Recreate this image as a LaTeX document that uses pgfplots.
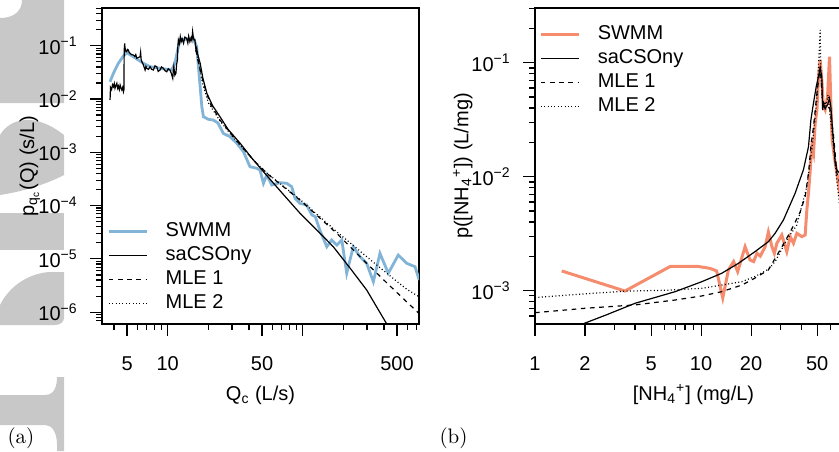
\documentclass[border=0pt]{standalone}
\usepackage{fontspec}
\usepackage{pgfplots}
\pgfplotsset{compat=1.18}
\newfontfamily\arial{Liberation Sans}
\definecolor{swmmblue}{RGB}{130,180,215}
\definecolor{swmmred}{RGB}{245,140,110}
\definecolor{wmark}{RGB}{200,200,200}

\tikzset{
  sacso/.style={black, line width=0.6pt},
  mle1/.style={black, line width=0.6pt, dash pattern=on 2.3pt off 2.3pt},
  mle2/.style={black, line width=0.6pt, dash pattern=on 0.5pt off 1.2pt},
}

\begin{document}
\begin{tikzpicture}[x=1pt,y=1pt]
% grey watermark letters cut by the left margin
\fill[wmark] (0,216.5) .. controls (7.5,216.5) and (11,220.5) .. (11,225.5)
  -- (32,225.5) -- (32,174) -- (0,174) -- cycle;
\fill[wmark] (0,158) .. controls (5,166.5) and (17.5,169.5) .. (32,158)
  -- (32,138) .. controls (22.5,133) and (10,129.5) .. (0,128) -- cycle;
\fill[wmark] (0,119) rectangle (32,100.5);
\fill[wmark] (0,73) .. controls (5,83) and (15,89) .. (25,89.5) -- (32,89.5)
  -- (32,66.5) .. controls (32,64.5) and (30,63) .. (27.5,63) -- (0,63) -- cycle;
\fill[wmark] (0,28) -- (22.5,28) .. controls (27.5,28) and (28.5,33) .. (28.5,37)
  -- (32,37) -- (32,0) -- (28.5,0) -- (28.5,3) .. controls (28.5,9.5) and (26,13) .. (22.5,13)
  -- (0,13) -- cycle;

% (a)
\begin{axis}[
  scale only axis, width=158.5pt, height=158pt,
  at={(51pt,63.5pt)}, anchor=south west,
  xmode=log, ymode=log,
  font=\arial\fontsize{10}{12}\selectfont,
  axis line style={line width=0.9pt},
  tick align=outside, tick pos=left,
  major tick length=6pt, minor tick length=3pt,
  every tick/.style={black, line width=0.6pt},
  xticklabel style={anchor=north, inner sep=0pt},
  yticklabel style={anchor=east, inner sep=0pt},
  xticklabel shift=10pt, yticklabel shift=6pt,
  legend cell align=left,
  legend style={draw=none, fill=none, inner sep=0pt, column sep=8.7pt, row sep=2.7pt,
    nodes={inner sep=0pt, text height=7.2pt, text depth=2.1pt},
    at={(axis description cs:0.016,0.323)}, anchor=north west},
  legend image code/.code={\draw[#1] (0pt,0pt) -- (19pt,0pt);},
  xmin=3.26, xmax=728, ymin=6e-7, ymax=0.51,
  xtick={5,10,50,100,500}, xticklabels={5,10,50,,500},
  minor xtick={4,6,7,8,9,20,30,40,60,70,80,90,200,300,400,600,700},
  ytick={1e-6,1e-5,1e-4,1e-3,1e-2,1e-1},
  yticklabels={10\textsuperscript{−6},10\textsuperscript{−5},10\textsuperscript{−4},
               10\textsuperscript{−3},10\textsuperscript{−2},10\textsuperscript{−1}},
  minor ytick={7e-7,8e-7,9e-7,2e-6,3e-6,4e-6,5e-6,6e-6,7e-6,8e-6,9e-6,
               2e-5,3e-5,4e-5,5e-5,6e-5,7e-5,8e-5,9e-5,2e-4,3e-4,4e-4,5e-4,6e-4,7e-4,8e-4,9e-4,
               2e-3,3e-3,4e-3,5e-3,6e-3,7e-3,8e-3,9e-3,2e-2,3e-2,4e-2,5e-2,6e-2,7e-2,8e-2,9e-2,
               2e-1,3e-1,4e-1,5e-1},
  every axis x label/.style={at={(axis description cs:0.5,-0.2405)}, anchor=base},
  every axis y label/.style={at={(axis description cs:-0.228,0.5)}, anchor=center, rotate=90},
  xlabel={Q\textsubscript{c} (L/s)},
  ylabel={p\textsubscript{q\textsubscript{c}}(Q) (s/L)},
]
\addplot[swmmblue, line width=1.4pt] coordinates {
(3.74,0.0211) (3.96,0.0303) (4.31,0.0468) (4.70,0.0641) (4.97,0.0739) (5.57,0.0622)
(6.60,0.0468) (7.40,0.0404) (9.84,0.0361) (10.7,0.035) (11.3,0.0468) (12.0,0.0958)
(12.4,0.128) (15.5,0.138) (16.4,0.0958) (16.9,0.0404) (17.4,0.0170) (17.9,7.18e-3)
(18.4,4.66e-3) (20.0,4.16e-3) (21.7,4.04e-3) (23.6,3.55e-3) (25.8,2.27e-3) (29.0,1.96e-3)
(32.5,1.48e-3) (36.4,1.03e-3) (40.7,5.37e-4) (45.7,5.01e-4) (48.3,4.66e-4) (51.2,2.62e-4)
(54.2,3.75e-4) (59.0,2.44e-4) (68.0,2.69e-4) (76.2,2.62e-4) (83.0,2.26e-4) (87.8,1.37e-4)
(95.6,1.10e-4) (107,1.03e-4) (117,6.67e-5) (124,6.19e-5) (134,3.48e-5) (151,1.69e-5)
(164,2.26e-5) (179,1.82e-5) (195,2.26e-5) (212,5.37e-6) (237,1.69e-5) (266,1.10e-5)
(298,8.26e-6) (334,3.73e-6) (374,1.27e-5) (431,5.37e-6) (511,1.18e-5) (590,8.26e-6)
(680,7.14e-6) (731,4.02e-6)};
\addlegendentry{SWMM}
\addplot[sacso] coordinates {
(3.74,0.0096) (3.77,0.0165) (3.84,0.0150) (3.90,0.0185) (3.96,0.0170) (4.02,0.0195)
(4.07,0.0159) (4.14,0.0180) (4.20,0.0197) (4.26,0.0160) (4.31,0.0175) (4.38,0.0150)
(4.44,0.0183) (4.51,0.0160) (4.57,0.0148) (4.64,0.0165) (4.70,0.0137) (4.74,0.0150)
(4.76,0.083) (4.80,0.110) (4.83,0.090) (4.90,0.078) (4.97,0.0771) (5.04,0.085)
(5.11,0.083) (5.18,0.075) (5.26,0.072) (5.40,0.068) (5.57,0.0669) (5.70,0.063)
(5.80,0.068) (5.90,0.058) (6.05,0.060) (6.24,0.0622) (6.30,0.075) (6.36,0.055)
(6.43,0.0501) (6.60,0.044) (6.80,0.035) (6.90,0.041) (7.00,0.0377) (7.20,0.036)
(7.40,0.0404) (7.60,0.036) (7.83,0.035) (8.05,0.042) (8.29,0.0404) (8.50,0.033)
(8.77,0.035) (9.00,0.040) (9.29,0.0377) (9.55,0.034) (9.84,0.0325) (10.1,0.037)
(10.4,0.035) (10.65,0.030) (10.9,0.0245) (11.0,0.033) (11.1,0.0404) (11.3,0.028)
(11.5,0.0303) (11.65,0.045) (11.8,0.0539) (11.9,0.10) (12.0,0.128) (12.2,0.110)
(12.4,0.148) (12.6,0.120) (12.8,0.135) (13.1,0.111) (13.4,0.145) (13.8,0.138)
(14.1,0.112) (14.3,0.150) (14.6,0.119) (14.9,0.140) (15.1,0.125) (15.3,0.183)
(15.5,0.140) (15.7,0.128) (15.9,0.130) (16.2,0.083) (16.4,0.090) (16.6,0.072)
(17.4,0.0468) (18.2,0.025) (19.5,0.0128) (21.5,7.5e-3) (24.4,4.66e-3) (28,2.7e-3)
(34.4,1.48e-3) (42,7.8e-4) (51.2,4.33e-4) (70,1.75e-4) (95.6,7.18e-5) (130,3.3e-5)
(168.7,1.69e-5) (230,6.2e-6) (298,2.61e-6) (420,6.0e-7) (450,4.6e-7)};
\addlegendentry{saCSOny}
\addplot[mle1] coordinates {
(16.2,0.083) (17.0,0.045) (18.4,0.0197) (20.6,8.3e-3) (24.4,4.04e-3) (30.6,1.96e-3)
(43.1,7.17e-4) (54.2,4.04e-4) (95.6,1.27e-4) (178.8,3.02e-5) (298,8.26e-6)
(420,3.55e-6) (590,1.56e-6) (728,9.5e-7)};
\addlegendentry{MLE 1}
\addplot[mle2] coordinates {
(16.2,0.083) (17.2,0.040) (18.2,0.0190) (20.0,8.5e-3) (24.4,3.9e-3) (30.6,1.9e-3)
(43.1,7.2e-4) (54.2,4.1e-4) (95.6,1.3e-4) (178.8,3.24e-5) (298,1.10e-5)
(420,5.37e-6) (590,2.7e-6) (728,1.95e-6)};
\addlegendentry{MLE 2}
\end{axis}

% (b)
\begin{axis}[
  scale only axis, width=158.5pt, height=158pt,
  at={(267.5pt,63.5pt)}, anchor=south west,
  xmode=log, ymode=log,
  font=\arial\fontsize{10}{12}\selectfont,
  axis line style={line width=0.9pt},
  tick align=outside, tick pos=left,
  major tick length=6pt, minor tick length=3pt,
  every tick/.style={black, line width=0.6pt},
  xticklabel style={anchor=north, inner sep=0pt},
  yticklabel style={anchor=east, inner sep=0pt},
  xticklabel shift=10pt, yticklabel shift=6pt,
  legend cell align=left,
  legend style={draw=none, fill=none, inner sep=0pt, column sep=8.7pt, row sep=2.7pt,
    nodes={inner sep=0pt, text height=7.2pt, text depth=2.1pt},
    at={(axis description cs:0.0125,0.948)}, anchor=north west},
  legend image code/.code={\draw[#1] (0pt,0pt) -- (19pt,0pt);},
  xmin=1, xmax=81, ymin=5.1e-4, ymax=0.302,
  xtick={1,2,5,10,20,50}, xticklabels={1,2,5,10,20,50},
  minor xtick={3,4,6,7,8,9,30,40,60,70,80},
  ytick={1e-3,1e-2,1e-1},
  yticklabels={10\textsuperscript{−3},10\textsuperscript{−2},10\textsuperscript{−1}},
  minor ytick={6e-4,7e-4,8e-4,9e-4,2e-3,3e-3,4e-3,5e-3,6e-3,7e-3,8e-3,9e-3,
               2e-2,3e-2,4e-2,5e-2,6e-2,7e-2,8e-2,9e-2,2e-1,3e-1},
  every axis x label/.style={at={(axis description cs:0.5,-0.2405)}, anchor=base},
  every axis y label/.style={at={(axis description cs:-0.228,0.5)}, anchor=center, rotate=90},
  xlabel={[NH\textsubscript{4}\textsuperscript{+}] (mg/L)},
  ylabel={p([NH\textsubscript{4}\textsuperscript{+}]) (L/mg)},
]
\addplot[swmmred, line width=1.5pt] coordinates {
(1.448,1.49e-3) (3.48,9.93e-4) (6.51,1.63e-3) (9.63,1.63e-3) (11.3,1.57e-3) (12.4,1.49e-3)
(13.5,8.63e-4) (14.6,1.52e-3) (15.7,1.80e-3) (16.6,1.47e-3) (18.4,2.43e-3) (19.7,1.86e-3)
(20.7,1.80e-3) (21.7,2.13e-3) (22.7,2.01e-3) (24.3,2.43e-3) (25.4,3.27e-3) (26.7,2.43e-3)
(27.6,2.13e-3) (28.6,2.61e-3) (30.6,3.08e-3) (32.8,2.20e-3) (34.4,2.98e-3) (36.0,2.61e-3)
(37.7,3.19e-3) (40.4,2.98e-3) (42.3,3.08e-3) (43.3,5.10e-3) (44.3,7.19e-3) (45.4,0.0115)
(46.4,0.0183) (47.5,0.0160) (48.6,0.0294) (49.8,0.0385) (50.9,0.0754) (52.1,0.106)
(53.3,0.0705) (54.5,0.0411) (55.8,0.0385) (57.7,0.0503) (59.3,0.113) (60.4,0.0441)
(61.5,0.021) (64.2,0.0131) (65.7,0.0107) (68.5,7.15e-3) (73.7,3.41e-3)};
\addlegendentry{SWMM}
\addplot[sacso] coordinates {
(1.8,4.9e-4) (2.7,6.15e-4) (4.0,7.75e-4) (6.97,9.8e-4) (10.1,1.20e-3) (13.3,1.42e-3)
(16.8,1.74e-3) (21.1,2.20e-3) (25.4,2.69e-3) (27.9,3.19e-3) (31.3,4.17e-3) (36.8,7.15e-3)
(41.3,0.0115) (44.3,0.0183) (45.8,0.0314) (47.1,0.0411) (49.3,0.0616) (50.9,0.0754)
(52.1,0.0898) (53.3,0.0754) (53.9,0.0385) (54.5,0.0441) (55.8,0.0398) (57.7,0.0426)
(59.3,0.0487) (60.4,0.0411) (62.1,0.0240) (64.2,0.0131) (65.7,0.0114) (68.5,0.0107)
(73.7,8.46e-3) (84.7,6.25e-3)};
\addlegendentry{saCSOny}
\addplot[mle1] coordinates {
(1.0,6.41e-4) (2.0,7.01e-4) (4.0,7.5e-4) (6.97,8.28e-4) (10.1,8.99e-4) (13.3,9.8e-4)
(17.6,1.12e-3) (21.1,1.29e-3) (25.4,1.52e-3) (29.9,2.28e-3) (34.4,3.27e-3) (39.5,4.9e-3)
(42.3,6.68e-3) (44.3,0.0107) (45.8,0.0183) (47.5,0.0275) (49.8,0.0539) (52.1,0.0922)
(53.3,0.0575) (54.5,0.0441) (56.9,0.0441) (59.8,0.0385) (62.5,0.024) (65.7,0.0107)
(68.9,8.46e-3) (79,6.9e-3)};
\addlegendentry{MLE 1}
\addplot[mle2] coordinates {
(1.0,8.69e-4) (1.59,9.17e-4) (3.48,9.9e-4) (6.35,1.01e-3) (10.1,1.05e-3) (13.3,1.12e-3)
(17.6,1.20e-3) (21.1,1.33e-3) (25.4,1.54e-3) (27.9,1.80e-3) (32.8,2.79e-3) (37.7,3.77e-3)
(43.3,8.17e-3) (46.4,0.0171) (49.8,0.0471) (52.1,0.194) (52.5,0.0862) (53.6,0.0471)
(55.8,0.0385) (58.1,0.0521) (59.8,0.0348) (62.1,0.021) (65.1,0.0104) (68.1,5.65e-3)
(73.7,7.64e-3)};
\addlegendentry{MLE 2}
\end{axis}

\node[font=\fontsize{10.5}{12}\selectfont] at (10.5,6.5) {(a)};
\node[font=\fontsize{10.5}{12}\selectfont] at (226.75,6.5) {(b)};

\pgfresetboundingbox
\path[use as bounding box] (0,0) rectangle (419.5,225.5);
\end{tikzpicture}
\end{document}
